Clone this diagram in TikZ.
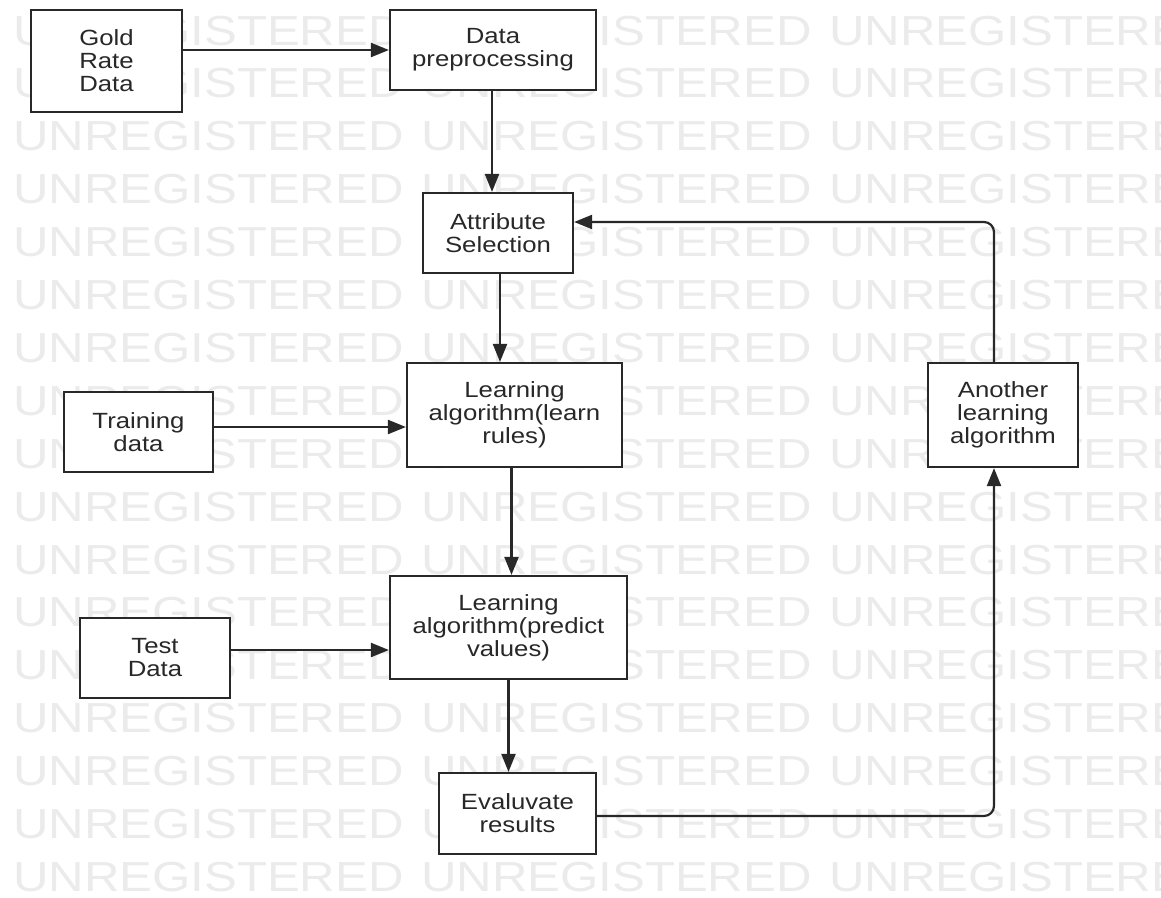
\documentclass[tikz,border=0pt]{standalone}
\usepackage{fontspec}
\setmainfont{Liberation Sans}[FakeStretch=1.17]
\usetikzlibrary{arrows.meta, positioning}
\definecolor{FrameGray}{RGB}{40, 40, 40}
\definecolor{MarkGray}{RGB}{235, 235, 235}

\tikzset{
    procbox/.style={draw=FrameGray, line width=2.2pt, fill=white, align=center, inner sep=0pt,
        text=FrameGray, font=\fontsize{22}{23}\selectfont},
    flowarrow/.style={draw=FrameGray, line width=2.2pt, -{Triangle[length=18pt, width=14pt]}},
    markword/.style={anchor=base west, inner sep=0pt, text=MarkGray, font=\fontsize{42}{42}\selectfont}
}

\begin{document}
\begin{tikzpicture}[x=1pt, y=-1pt]
        \useasboundingbox (0,0) rectangle (1161,897);
        % watermark in the background
        \begin{scope}
            \clip (0,0) rectangle (1161,897);
            \foreach \row in {0,...,16} {
                \foreach \col in {0,1,2} {
                    \node[markword] (mark-\row-\col) at (13+408*\col, 45+52.9*\row) {UNREGISTERED};
                }
            }
        \end{scope}

        % boxes
        \node[procbox, minimum width=151pt, minimum height=102pt] (gold) at (106.5, 61) {Gold\\Rate\\Data};
        \node[procbox, minimum width=206pt, minimum height=80pt] (prep) at (493, 50) {Data\\preprocessing};
        \node[procbox, minimum width=150pt, minimum height=80pt] (attr) at (498, 233) {Attribute\\Selection};
        \node[procbox, minimum width=215pt, minimum height=104pt] (learn) at (514.5, 415) {Learning\\algorithm(learn\\rules)};
        \node[procbox, minimum width=149pt, minimum height=80pt] (train) at (138.5, 432) {Training\\data};
        \node[procbox, minimum width=150pt, minimum height=104pt] (other) at (1003, 415) {Another\\learning\\algorithm};
        \node[procbox, minimum width=237pt, minimum height=103pt] (predict) at (508.5, 627.5) {Learning\\algorithm(predict\\values)};
        \node[procbox, minimum width=150pt, minimum height=80pt] (test) at (155, 658) {Test\\Data};
        \node[procbox, minimum width=157pt, minimum height=81pt] (eval) at (517.5, 813.5) {Evaluvate\\results};

        % connectors
        \draw[flowarrow] (gold.east |- prep.west) -- (prep.west);
        \draw[flowarrow] ([xshift=-1pt]prep.south) -- ([xshift=-1pt]prep.south |- attr.north);
        \draw[flowarrow] ([xshift=2pt]attr.south) -- ([xshift=2pt]attr.south |- learn.north);
        \draw[flowarrow] ([yshift=5pt]train.east) -- ([yshift=5pt]train.east -| learn.west);
        \draw[flowarrow] ([xshift=-3pt]learn.south) -- ([xshift=-3pt]learn.south |- predict.north);
        \draw[flowarrow] ([yshift=8pt]test.east) -- ([yshift=8pt]test.east -| predict.west);
        \draw[flowarrow] (predict.south) -- (predict.south |- eval.north);
        \draw[flowarrow, rounded corners=10pt] ([yshift=-2.5pt]eval.east) -| ([xshift=-9pt]other.south);
        \draw[flowarrow, rounded corners=10pt] ([xshift=-9pt]other.north) |- ([yshift=11pt]attr.east);
    \end{tikzpicture}
\end{document}
